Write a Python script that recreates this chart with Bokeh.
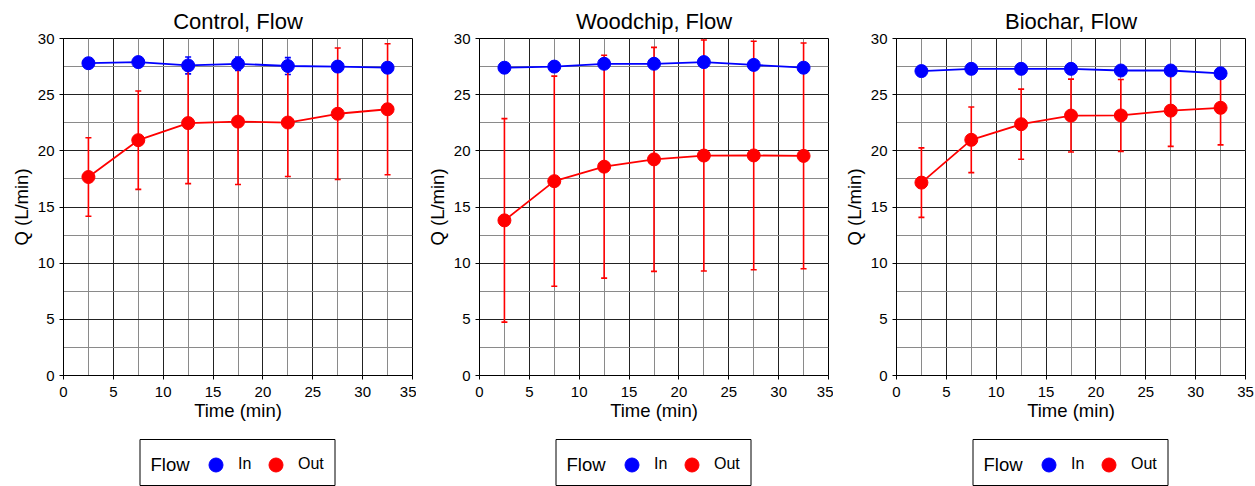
from bokeh.plotting import figure
from bokeh.models import (ColumnDataSource, Whisker, TeeHead, Range1d,
                          SingleIntervalTicker, Legend, LegendItem, Label,
                          BoxAnnotation)
from bokeh.layouts import row, column
from bokeh.embed import file_html
from bokeh.resources import INLINE

# Sampling times (min), midpoints of each 5-minute interval
time = [2.5, 7.5, 12.5, 17.5, 22.5, 27.5, 32.5]

# Control columns
control_in = [27.8, 27.9, 27.6, 27.75, 27.55, 27.5, 27.4]
control_in_sd = [0.2, 0.2, 0.75, 0.6, 0.75, 0.2, 0.2]
control_out = [17.67, 20.95, 22.47, 22.6, 22.52, 23.3, 23.7]
control_out_sd = [3.5, 4.38, 5.39, 5.6, 4.8, 5.85, 5.83]

# Woodchip columns
woodchip_in = [27.4, 27.5, 27.75, 27.75, 27.9, 27.65, 27.4]
woodchip_in_sd = [0.1, 0.1, 0.1, 0.1, 0.1, 0.1, 0.1]
woodchip_out = [13.81, 17.3, 18.59, 19.24, 19.58, 19.59, 19.55]
woodchip_out_sd = [9.06, 9.35, 9.92, 9.97, 10.28, 10.17, 10.05]

# Biochar columns
biochar_in = [27.1, 27.3, 27.3, 27.3, 27.15, 27.15, 26.9]
biochar_in_sd = [0.1, 0.1, 0.1, 0.1, 0.1, 0.1, 0.35]
biochar_out = [17.17, 20.98, 22.37, 23.14, 23.15, 23.58, 23.83]
biochar_out_sd = [3.09, 2.92, 3.12, 3.24, 3.2, 3.18, 3.3]

flow_labels = ["In", "Out"]

FONT = "Liberation Sans"
BLUE = "#0000ff"
RED = "#ff0000"
FRAME_W = 349
FRAME_H = 337
TOP = 38
MAIN_H = 425
KEY_H = 486 - MAIN_H


def series(p, vals, sd, color):
    src = ColumnDataSource(dict(
        x=time, y=vals,
        lower=[v - s for v, s in zip(vals, sd)],
        upper=[v + s for v, s in zip(vals, sd)],
    ))
    p.line("x", "y", source=src, line_color=color, line_width=1.8)
    w = Whisker(base="x", lower="lower", upper="upper", source=src,
                line_color=color, line_width=1.6,
                upper_head=TeeHead(size=6, line_color=color, line_width=1.6),
                lower_head=TeeHead(size=6, line_color=color, line_width=1.6))
    p.add_layout(w)
    p.scatter("x", "y", source=src, size=13, fill_color=color,
              line_color=color)


def key_figure(border_right):
    # Strip under each panel carrying the boxed "Flow" key; its ranges
    # are in pixels of its frame so the key is laid out in screen terms.
    k = figure(frame_width=FRAME_W, frame_height=KEY_H,
               output_backend="svg", toolbar_location=None,
               x_range=Range1d(0, FRAME_W), y_range=Range1d(0, KEY_H),
               min_border_left=63, min_border_right=border_right,
               min_border_top=0, min_border_bottom=0,
               x_axis_location=None, y_axis_location=None,
               outline_line_color=None, border_fill_color="white",
               background_fill_color="white")
    k.grid.visible = False
    swatches = []
    for color in (BLUE, RED):
        swatches.append(k.scatter(x=[float("nan")], y=[float("nan")],
                                  size=13, fill_color=color,
                                  line_color=color))
    legend = Legend(items=[LegendItem(label=lab, renderers=[r])
                           for lab, r in zip(flow_labels, swatches)],
                    orientation="horizontal", location=(135, 4.5),
                    label_text_font=FONT, label_text_font_size="16px",
                    label_text_color="black", label_width=14,
                    glyph_width=35, glyph_height=35, label_standoff=5,
                    spacing=6, padding=0, margin=0,
                    border_line_color=None, background_fill_alpha=0)
    k.add_layout(legend)
    k.add_layout(Label(x=87, y=22, text="Flow", text_font=FONT,
                       text_font_size="18.5px", text_color="black",
                       text_baseline="middle", text_align="left"))
    k.add_layout(BoxAnnotation(left=76.5, right=271.5, bottom=1, top=47,
                               fill_alpha=0, line_color="black",
                               line_width=1, line_alpha=1))
    return k


def panel(title, vin, vin_sd, vout, vout_sd, border_right):
    p = figure(frame_width=FRAME_W, frame_height=FRAME_H,
               x_range=Range1d(0, 35), y_range=Range1d(0, 30),
               output_backend="svg", toolbar_location=None,
               min_border_left=63, min_border_right=border_right,
               min_border_top=TOP, min_border_bottom=MAIN_H - TOP - FRAME_H,
               background_fill_color="white", border_fill_color="white")
    p.title.text = title
    p.title.align = "center"
    p.title.text_font = FONT
    p.title.text_font_size = "22px"
    p.title.text_font_style = "normal"
    p.title.text_color = "black"
    p.title.standoff = 10

    for ax, lab in ((p.xaxis, "Time (min)"), (p.yaxis, "Q (L/min)")):
        ax.ticker = SingleIntervalTicker(interval=5, num_minor_ticks=2)
        ax.axis_label = lab
        ax.axis_label_text_font = FONT
        ax.axis_label_text_font_size = "18.5px"
        ax.axis_label_text_font_style = "normal"
        ax.axis_label_text_color = "black"
        ax.major_label_text_font = FONT
        ax.major_label_text_font_size = "15px"
        ax.major_label_text_color = "black"
        ax.axis_line_color = "black"
        ax.major_tick_line_color = "black"
        ax.major_tick_in = 0
        ax.major_tick_out = 4
        ax.minor_tick_line_color = None
    p.xaxis.major_label_standoff = 7
    p.xaxis.axis_label_standoff = 0
    p.yaxis.major_label_standoff = 5
    p.yaxis.axis_label_standoff = 3

    for g in (p.xgrid, p.ygrid):
        g.grid_line_color = "#222222"
        g.grid_line_width = 1
        g.minor_grid_line_color = "#8a8a8a"
        g.minor_grid_line_width = 1
    p.outline_line_color = "black"

    series(p, vin, vin_sd, BLUE)
    series(p, vout, vout_sd, RED)
    return column(p, key_figure(border_right), spacing=0)


p1 = panel("Control, Flow", control_in, control_in_sd,
           control_out, control_out_sd, 4)
p2 = panel("Woodchip, Flow", woodchip_in, woodchip_in_sd,
           woodchip_out, woodchip_out_sd, 5)
p3 = panel("Biochar, Flow", biochar_in, biochar_in_sd,
           biochar_out, biochar_out_sd, 11)

layout = row(p1, p2, p3)
open("out.html", "w").write(file_html(layout, INLINE))
